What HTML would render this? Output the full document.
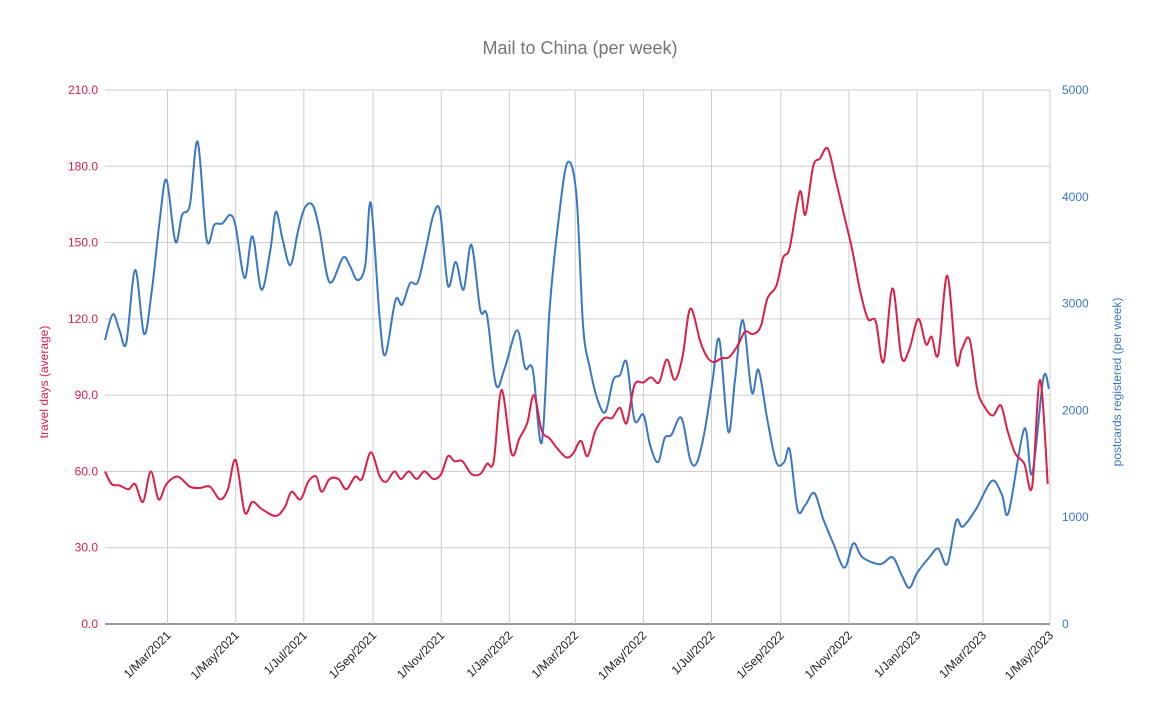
<!DOCTYPE html>
<html><head><meta charset="utf-8"><style>
body{margin:0;background:#fff;font-family:"Liberation Sans",sans-serif}
svg{display:block}
</style></head><body>
<svg id="chart" width="1159" height="716" xmlns="http://www.w3.org/2000/svg">
<rect width="1159" height="716" fill="#fff"/>
<text x="580" y="54" text-anchor="middle" font-size="18" fill="#757575">Mail to China (per week)</text>
<g id="grid"></g>
<g id="ticks"></g>
<g id="series"></g>
<text transform="translate(48,382) rotate(-90)" text-anchor="middle" font-size="12" fill="#d81f48">travel days (average)</text>
<text transform="translate(1121,382) rotate(-90)" text-anchor="middle" font-size="12" fill="#3a78c3">postcards registered (per week)</text>
</svg>
<script>
// days since 2021-01-04
const travelDayOffsets=[0,6,13,21,27,34,41,48,55,65,76,85,94,103,110,117,125,132,141,153,161,167,175,182,189,194,201,209,216,224,230,238,246,252,259,265,272,279,286,294,301,307,313,320,328,336,342,348,355,364,371,378,384,391,398,405,413,419,426,432,439,447,454,461,467,474,482,489,496,503,510,517,524,533,539,545,552,559,567,573,580,587,593,601,607,613,622,627,634,640,647,654,661,669,676,683,690,697,705,713,720,728,735,740,746,754,762,767,774,781,788,795,802,808,815,823,830,837,844];
const travelDays=[60,55,54.5,53,55,48,60,49,55,58,54,53.5,54,49,53,64.5,44,48,45,42.5,46,52,49,56,58,52,57,57,53,58,57,67.5,58,56,60,57,60,57,60,57,59,66,64,64,59,59,63,64,92,67,73,79,90,76,73,69,65.5,67,72,66,76,81,81,85,79,94,95,97,95,104,96,105,124,111,105,103,104.5,105,110,115,114,117,128,133,144,148,170,161,180,183,187,175,162,147,131,120,119,103,132,105,108,120,110,113,106,137,103,108,112,92,85,82,86,76,67,63,54,96,55];
const postcardDayOffsets=[0,7,13,19,27,35,42,49,55,63,69,76,83,91,98,105,112,117,125,132,140,148,153,159,166,173,179,186,192,201,213,219,226,233,238,246,251,260,266,273,280,287,294,300,307,314,321,328,336,342,350,358,369,376,383,391,398,406,414,422,428,434,441,448,455,461,467,474,482,488,495,501,507,516,524,530,537,544,550,558,564,571,579,585,593,601,608,613,620,627,635,643,652,662,670,678,694,705,713,720,727,738,746,754,762,768,780,794,803,809,823,830,840,845];
const postcards=[2660,2900,2750,2630,3315,2715,3130,3780,4160,3580,3830,3925,4515,3600,3740,3750,3830,3720,3240,3630,3130,3500,3860,3600,3360,3690,3900,3920,3690,3200,3430,3360,3220,3360,3940,2850,2520,3030,2990,3190,3200,3500,3830,3860,3170,3390,3130,3550,2940,2890,2240,2400,2750,2400,2380,1700,2940,3780,4320,4020,2790,2400,2100,1985,2285,2330,2450,1910,1960,1675,1515,1740,1770,1930,1535,1515,1815,2285,2660,1800,2285,2845,2170,2380,1910,1515,1515,1630,1070,1115,1226,982,755,527,755,625,560,625,462,338,478,625,706,560,966,911,1080,1340,1210,1047,1828,1405,2300,2202];
const leftTicks=[0,30,60,90,120,150,180,210];
const leftTickLabels=["0.0","30.0","60.0","90.0","120.0","150.0","180.0","210.0"];
const rightTicks=[0,1000,2000,3000,4000,5000];
const rightTickLabels=["0","1000","2000","3000","4000","5000"];
const monthTickDays=[56,117,178,240,301,362,421,482,543,605,666,727,786,846];
const monthTickLabels=["1/Mar/2021","1/May/2021","1/Jul/2021","1/Sep/2021","1/Nov/2021","1/Jan/2022","1/Mar/2022","1/May/2022","1/Jul/2022","1/Sep/2022","1/Nov/2022","1/Jan/2023","1/Mar/2023","1/May/2023"];

const X0=105,X1=1050,Y0=624,Y1=90,DMAX=846;
const xS=d=>X0+d/DMAX*(X1-X0);
const yL=v=>Y0-v/210*(Y0-Y1);
const yR=v=>Y0-v/5000*(Y0-Y1);
const NS="http://www.w3.org/2000/svg";
function mk(tag,parent){const e=document.createElementNS(NS,tag);parent.appendChild(e);return e;}
const grid=document.getElementById('grid'),ticks=document.getElementById('ticks'),series=document.getElementById('series');

leftTicks.forEach((v,i)=>{
  const l=mk('line',grid);
  
  
  l.setAttribute('x1',X0);l.setAttribute('x2',X1);l.setAttribute('y1',yL(v));l.setAttribute('y2',yL(v));
  l.setAttribute('stroke',v===0?'#333':'#cccccc');l.setAttribute('stroke-width',1);
  const t=mk('text',ticks);
  
  
  t.setAttribute('x',98);t.setAttribute('y',yL(v)+4);t.setAttribute('text-anchor','end');
  t.setAttribute('font-size',12);t.setAttribute('fill','#d81f48');t.textContent=leftTickLabels[i];
});
rightTicks.forEach((v,i)=>{
  const t=mk('text',ticks);
  
  
  t.setAttribute('x',1062);t.setAttribute('y',yR(v)+4);
  t.setAttribute('font-size',12);t.setAttribute('fill','#3a78c3');t.textContent=rightTickLabels[i];
});
monthTickDays.forEach((d,i)=>{
  const x=xS(d);
  const l=mk('line',grid);
  
  
  l.setAttribute('x1',x);l.setAttribute('x2',x);l.setAttribute('y1',Y1);l.setAttribute('y2',Y0);
  l.setAttribute('stroke','#cccccc');l.setAttribute('stroke-width',1);
  const t=mk('text',ticks);
  
  
  t.setAttribute('transform',`translate(${x+4},${Y0+12}) rotate(-45)`);
  t.setAttribute('text-anchor','end');t.setAttribute('font-size',12);t.setAttribute('fill','#222');
  t.textContent=monthTickLabels[i];
});
function smooth(pts){
  let d=`M${pts[0][0]},${pts[0][1]}`;
  for(let i=0;i<pts.length-1;i++){
    const p0=pts[Math.max(0,i-1)],p1=pts[i],p2=pts[i+1],p3=pts[Math.min(pts.length-1,i+2)];
    const k=6;
    d+=` C${p1[0]+(p2[0]-p0[0])/k},${p1[1]+(p2[1]-p0[1])/k} ${p2[0]-(p3[0]-p1[0])/k},${p2[1]-(p3[1]-p1[1])/k} ${p2[0]},${p2[1]}`;
  }
  return d;
}
const bp=mk('path',series);


bp.setAttribute('d',smooth(postcardDayOffsets.map((d,i)=>[xS(d),yR(postcards[i])])));
bp.setAttribute('fill','none');bp.setAttribute('stroke','#3a78c3');bp.setAttribute('stroke-width',2);
const rp=mk('path',series);


rp.setAttribute('d',smooth(travelDayOffsets.map((d,i)=>[xS(d),yL(travelDays[i])])));
rp.setAttribute('fill','none');rp.setAttribute('stroke','#dc1f45');rp.setAttribute('stroke-width',2);
</script>
</body></html>
